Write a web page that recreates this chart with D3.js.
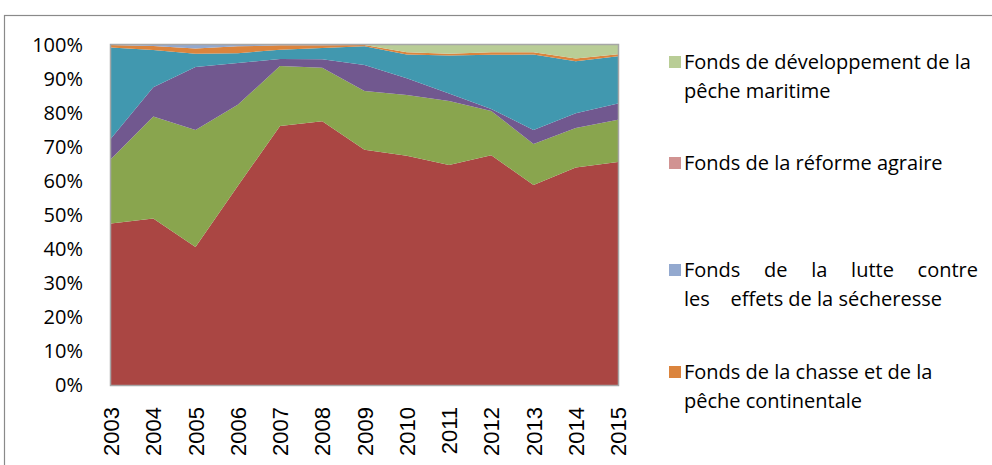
<!DOCTYPE html>
<html>
<head>
<meta charset="utf-8">
<script src="https://cdn.jsdelivr.net/npm/d3@7"></script>
<style>
  body { margin: 0; background: #fff; }
  svg { display: block; }
</style>
</head>
<body>
<div id="chart"></div>
<script>
var svgWidth = 992;
var svgHeight = 465;

// DATA (shares in %, bottom layer first)
var years = [2003, 2004, 2005, 2006, 2007, 2008, 2009, 2010, 2011, 2012, 2013, 2014, 2015];
var serie1 = [47.5, 49.0, 40.6, 58.5, 76.2, 77.6, 69.2, 67.4, 64.7, 67.6, 58.8, 64.0, 65.6];
var serie2 = [19.0, 30.0, 34.4, 23.9, 17.6, 15.7, 17.3, 17.9, 18.8, 13.0, 12.1, 11.6, 12.4];
var serie3 = [6.0, 8.6, 18.5, 12.3, 2.1, 2.5, 7.6, 4.9, 2.2, 0.6, 4.1, 4.3, 4.8];
var serie4 = [26.8, 10.9, 3.9, 2.9, 2.7, 3.3, 5.5, 7.0, 11.2, 15.9, 22.2, 15.3, 13.9];
var chasse = [0.7, 1.2, 1.6, 2.0, 1.3, 0.8, 0.4, 0.7, 0.5, 0.8, 0.7, 0.8, 0.6];
var secheresse = [0, 0.3, 1.0, 0.4, 0.1, 0.1, 0, 0, 0, 0, 0, 0, 0];
var reforme = [0, 0, 0, 0, 0, 0, 0, 0, 0, 0, 0, 0, 0];
var pecheMaritime = [0, 0, 0, 0, 0, 0, 0, 2.1, 2.6, 2.1, 2.1, 4.0, 2.7];

var seriesKeys = ["s1", "s2", "s3", "s4", "chasse", "secheresse", "reforme", "peche"];
var seriesValues = [serie1, serie2, serie3, serie4, chasse, secheresse, reforme, pecheMaritime];
var seriesColors = ["#AA4643", "#89A54E", "#71588F", "#4198AF", "#DB843D", "#93A9CF", "#D19392", "#B9CD96"];

// legend (only these four are shown in the original)
var legendKeys = ["peche", "reforme", "secheresse", "chasse"];
var legendLines = [
  ["Fonds de développement de la", "pêche maritime"],
  ["Fonds de la réforme agraire"],
  ["Fonds de la lutte contre", "les    effets de la sécheresse"],
  ["Fonds de la chasse et de la", "pêche continentale"]
];
var legendY = [62, 163, 270, 372];

var yTicks = [0, 0.1, 0.2, 0.3, 0.4, 0.5, 0.6, 0.7, 0.8, 0.9, 1];

var plot = { left: 111, right: 618, top: 45, bottom: 385 };
var textFont = "'Open Sans', Lato, sans-serif";

var svg = d3.select("#chart")
  .append("svg")
  .attr("width", svgWidth)
  .attr("height", svgHeight);

// outer chart border
svg.append("rect")
  .attr("x", 4.5)
  .attr("y", 15.5)
  .attr("width", 1000)
  .attr("height", 500)
  .attr("fill", "none")
  .attr("stroke", "#8a8a8a")
  .attr("stroke-width", 1.2);

// build table for the stack
var table = years.map(function(y, i) {
  var row = { year: y };
  seriesKeys.forEach(function(k, j) { row[k] = seriesValues[j][i]; });
  return row;
});

var stack = d3.stack()
  .keys(seriesKeys)
  .offset(d3.stackOffsetExpand);
var layers = stack(table);

var xScale = d3.scalePoint()
  .domain(years)
  .range([plot.left, plot.right]);

var yScale = d3.scaleLinear()
  .domain([0, 1])
  .range([plot.bottom, plot.top]);

var colorScale = d3.scaleOrdinal()
  .domain(seriesKeys)
  .range(seriesColors);

var area = d3.area()
  .x(d => xScale(d.data.year))
  .y0(d => yScale(d[0]))
  .y1(d => yScale(d[1]));

svg.append("g")
  .selectAll("path")
  .data(layers)
  .enter()
  .append("path")
  .attr("d", area)
  .attr("fill", d => colorScale(d.key));

// plot area border
svg.append("rect")
  .attr("x", plot.left - 0.5)
  .attr("y", plot.top - 0.5)
  .attr("width", plot.right - plot.left + 1)
  .attr("height", plot.bottom - plot.top + 1)
  .attr("fill", "none")
  .attr("stroke", "#a6a6a6")
  .attr("stroke-width", 1.5);

// Y AXIS
var yAxis = svg.append("g")
  .attr("transform", `translate(${plot.left}, 0)`)
  .call(d3.axisLeft(yScale).tickValues(yTicks).tickSize(0).tickPadding(28).tickFormat(d3.format(".0%")));
yAxis.select(".domain").remove();
yAxis.selectAll("text")
  .attr("font-family", textFont)
  .attr("font-size", 20)
  .attr("fill", "#000");

// X AXIS
var xAxis = svg.append("g")
  .attr("transform", `translate(0, ${plot.bottom})`)
  .call(d3.axisBottom(xScale).tickSize(0).tickFormat(d3.format("d")));
xAxis.select(".domain").remove();
xAxis.selectAll("text")
  .attr("font-family", "'Liberation Sans', Arial, sans-serif")
  .attr("font-size", 22)
  .attr("fill", "#000")
  .attr("transform", "rotate(-90)")
  .attr("text-anchor", "end")
  .attr("x", -22)
  .attr("y", 0)
  .attr("dy", "0.35em");

// LEGEND
var legendX = 669;
var textX = 684;
var lineH = 29;
var justifyRight = 978;

legendKeys.forEach(function(k, i) {
  var g = svg.append("g");
  g.append("rect")
    .attr("x", legendX)
    .attr("y", legendY[i] - 6)
    .attr("width", 12)
    .attr("height", 12)
    .attr("fill", colorScale(k));

  legendLines[i].forEach(function(line, j) {
    var t = g.append("text")
      .attr("x", textX)
      .attr("y", legendY[i] + j * lineH)
      .attr("dy", "0.35em")
      .attr("font-family", textFont)
      .attr("font-size", 20)
      .attr("fill", "#000")
      .style("white-space", "pre")
      .text(line);

    // justified first line of the "sécheresse" entry
    if (k === "secheresse" && j === 0) {
      t.remove();
      var words = line.split(" ");
      var tmp = words.map(function(w) {
        return g.append("text")
          .attr("y", legendY[i])
          .attr("dy", "0.35em")
          .attr("font-family", textFont)
          .attr("font-size", 20)
          .attr("fill", "#000")
          .text(w);
      });
      var widths = tmp.map(s => s.node().getComputedTextLength());
      var total = d3.sum(widths);
      var gap = (justifyRight - textX - total) / (words.length - 1);
      var cx = textX;
      tmp.forEach(function(s, n) {
        s.attr("x", cx);
        cx += widths[n] + gap;
      });
    }
  });
});
</script>
</body>
</html>
